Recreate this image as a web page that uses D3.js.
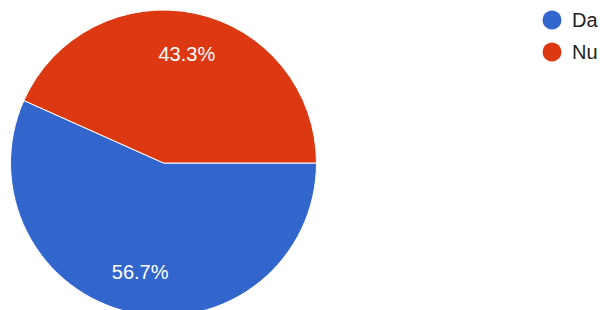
<!DOCTYPE html>
<html>
<head>
<meta charset="utf-8">
<script src="https://cdn.jsdelivr.net/npm/d3@7.9.0/dist/d3.min.js"></script>
<style>
  html, body { margin: 0; padding: 0; background: #fff; overflow: hidden; }
  svg { display: block; font-family: Arial, "Liberation Sans", sans-serif; }
</style>
</head>
<body>
<svg id="chart" width="600" height="310"></svg>
<script>
// answers and their share of responses (%)
const labels = ['Da', 'Nu'];
const values = [56.7, 43.3];
const colors = ['#3366cc', '#dc3912'];

function drawPie() {
  const svg = d3.select('#chart');
  svg.selectAll('*').remove();

  const cx = 163.5, cy = 163, radius = 153;

  const data = labels.map((label, i) => ({ label, value: values[i], color: colors[i] }));

  // first slice starts at 3 o'clock and runs clockwise
  const sliceGenerator = d3.pie()
    .sort(null)
    .value((d) => d.value)
    .startAngle(Math.PI / 2)
    .endAngle(Math.PI / 2 + 2 * Math.PI);

  const arcGenerator = d3.arc().innerRadius(0).outerRadius(radius);
  const labelArc = d3.arc().innerRadius(radius * 0.73).outerRadius(radius * 0.73);

  const arcs = sliceGenerator(data);
  const g = svg.append('g').attr('transform', `translate(${cx},${cy})`);

  g.selectAll('path')
    .data(arcs)
    .join('path')
    .attr('d', arcGenerator)
    .attr('fill', (d) => d.data.color)
    .attr('stroke', 'white')
    .attr('stroke-width', 1);

  g.selectAll('text')
    .data(arcs)
    .join('text')
    .attr('transform', (d) => `translate(${labelArc.centroid(d)})`)
    .attr('text-anchor', 'middle')
    .attr('dy', '0.36em')
    .attr('fill', '#fff')
    .attr('font-size', 20)
    .text((d) => `${d.data.value.toFixed(1)}%`);

  // === Legend ===
  const legend = svg.append('g').attr('transform', 'translate(552,20)');
  const rows = legend.selectAll('g')
    .data(data)
    .join('g')
    .attr('transform', (_d, i) => `translate(0,${i * 32})`);

  rows.append('circle')
    .attr('r', 9.5)
    .attr('fill', (d) => d.color);

  rows.append('text')
    .attr('x', 20)
    .attr('dy', '0.36em')
    .attr('fill', '#222')
    .attr('font-size', 20)
    .text((d) => d.label);
}

drawPie();
</script>
</body>
</html>
